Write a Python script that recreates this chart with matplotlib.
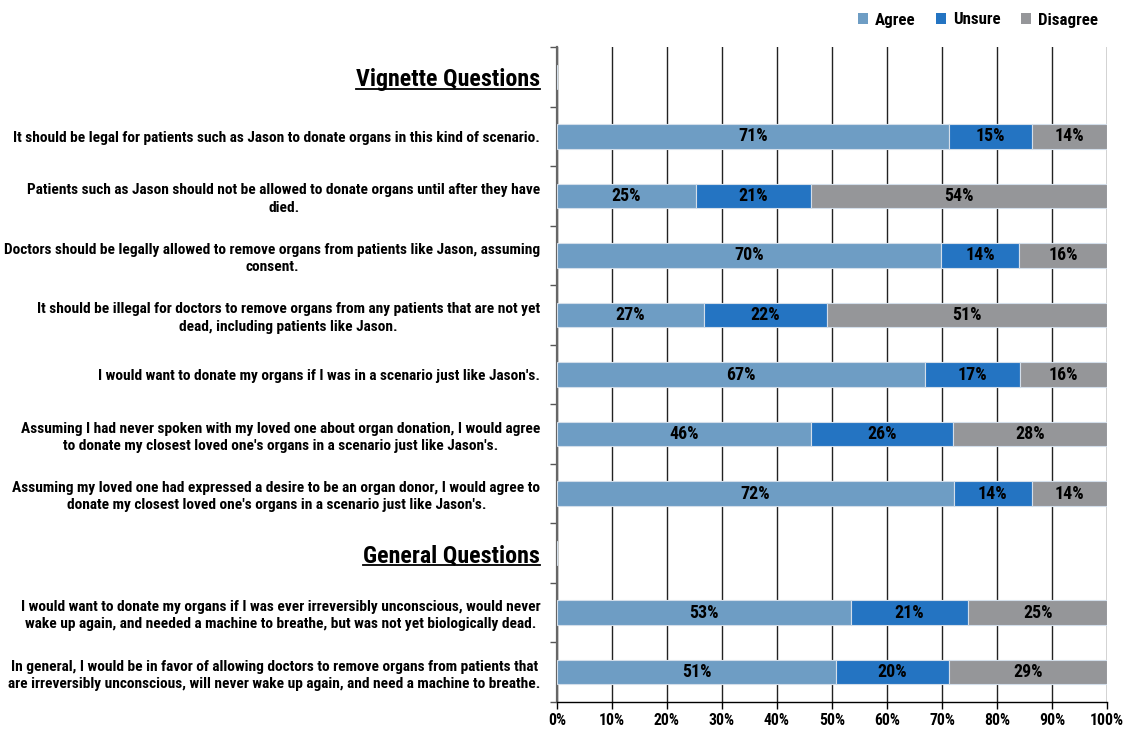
import matplotlib
matplotlib.use("Agg")
import matplotlib.pyplot as plt
from matplotlib import font_manager
from matplotlib.lines import Line2D
from matplotlib.patches import Patch
import numpy as np

names = {f.name for f in font_manager.fontManager.ttflist}
FAM = None
for cand in ["Liberation Sans Narrow", "Arial Narrow", "Roboto Condensed",
             "Open Sans Condensed", "Noto Sans Condensed", "DejaVu Sans Condensed"]:
    if cand in names:
        FAM = cand
        break
if FAM is None:
    FAM = "Liberation Sans"
plt.rcParams["font.family"] = [FAM, "DejaVu Sans"]

categories = [
    "Vignette Questions",
    "It should be legal for patients such as Jason to donate organs in this kind of scenario.",
    "Patients such as Jason should not be allowed to donate organs until after they have\ndied.",
    "Doctors should be legally allowed to remove organs from patients like Jason, assuming\nconsent.",
    "It should be illegal for doctors to remove organs from any patients that are not yet\ndead, including patients like Jason.",
    "I would want to donate my organs if I was in a scenario just like Jason's.",
    "Assuming I had never spoken with my loved one about organ donation, I would agree\nto donate my closest loved one's organs in a scenario just like Jason's.",
    "Assuming my loved one had expressed a desire to be an organ donor, I would agree to\ndonate my closest loved one's organs in a scenario just like Jason's.",
    "General Questions",
    "I would want to donate my organs if I was ever irreversibly unconscious, would never\nwake up again, and needed a machine to breathe, but was not yet biologically dead.",
    "In general, I would be in favor of allowing doctors to remove organs from patients that\nare irreversibly unconscious, will never wake up again, and need a machine to breathe.",
]
headers = ["Vignette Questions", "General Questions"]

agree    = [np.nan, 71.3, 25.2, 69.8, 26.7, 66.9, 46.1, 72.1, np.nan, 53.4, 50.8]
unsure   = [np.nan, 15.0, 20.9, 14.2, 22.4, 17.3, 25.9, 14.2, np.nan, 21.4, 20.4]
disagree = [np.nan, 13.7, 53.9, 16.0, 50.9, 15.8, 28.0, 13.7, np.nan, 25.2, 28.8]

series_names = ["Agree", "Unsure", "Disagree"]
colors = ["#6e9dc4", "#2474c2", "#959699"]
xticks = [0, 10, 20, 30, 40, 50, 60, 70, 80, 90, 100]

fig = plt.figure(figsize=(11.28, 7.31), dpi=100)
ax = fig.add_axes([557/1128, 1 - 702/731, 550/1128, 655/731])
renderer = fig.canvas.get_renderer()


def fit_size(base, sample, target_px, weight="bold"):
    t = fig.text(0, 0, sample, fontsize=base, fontweight=weight)
    w = t.get_window_extent(renderer).width
    t.remove()
    return base * target_px / w


lab_fs = fit_size(11, categories[1], 528)
head_fs = fit_size(15, "Vignette Questions", 184)
val_fs = fit_size(11, "71%", 29.5)
tick_fs = fit_size(11, "100%", 34)
leg_fs = fit_size(11, "Disagree", 60)

y = np.arange(len(categories))
left = np.zeros(len(categories))
for vals, col, name in zip([agree, unsure, disagree], colors, series_names):
    v = np.array(vals, dtype=float)
    vv = np.nan_to_num(v)
    ax.barh(y, vv, left=left, height=0.41, color=col, edgecolor="#d3deea",
            linewidth=0.8, label=name, zorder=3)
    for yi, (l, w) in enumerate(zip(left, v)):
        if not np.isnan(w):
            ax.text(l + w / 2, yi, f"{w:.0f}%", ha="center", va="center",
                    fontsize=val_fs, fontweight="bold", color="black", zorder=4)
    left = left + vv

ax.set_xlim(0, 100)
ax.set_ylim(len(categories) - 0.5, -0.5)
ax.set_xticks(xticks)
ax.set_xticklabels([f"{t}%" for t in xticks], fontsize=tick_fs, fontweight="bold")
ax.set_yticks(y)
ax.set_yticks(np.arange(-0.5, len(categories) + 0.5, 1), minor=True)
ax.tick_params(axis="y", which="major", length=0, pad=12)
ax.tick_params(axis="y", which="minor", length=5, width=1, color="#555555")
ax.tick_params(axis="x", length=5, width=1, color="black", pad=3)
labels = ax.set_yticklabels(categories)
for lab, txt in zip(labels, categories):
    lab.set_multialignment("center")
    lab.set_fontweight("bold")
    lab.set_linespacing(1.3)
    if txt in headers:
        lab.set_fontsize(head_fs)
    else:
        lab.set_fontsize(lab_fs)

for s in ["top", "right"]:
    ax.spines[s].set_visible(False)
ax.spines["left"].set_color("#666666")
ax.spines["left"].set_linewidth(1.6)
ax.spines["bottom"].set_color("black")
ax.spines["bottom"].set_linewidth(1)
ax.set_axisbelow(True)
ax.grid(axis="x", color="#222222", linewidth=1, zorder=0)
ax.grid(axis="y", visible=False)

handles = [Patch(facecolor=c, edgecolor="none") for c in colors]
fig.legend(handles, series_names, loc="center right", bbox_to_anchor=(1098/1128, 1 - 20/731),
           ncol=3, frameon=False, prop={"weight": "bold", "size": leg_fs},
           handlelength=0.6, handleheight=0.6, handletextpad=0.4, columnspacing=1.2,
           borderpad=0, borderaxespad=0)

fig.canvas.draw()
renderer = fig.canvas.get_renderer()
for lab, txt in zip(labels, categories):
    if txt in headers:
        bb = lab.get_window_extent(renderer)
        yline = bb.y0 + 2
        fig.add_artist(Line2D([bb.x0 / fig.bbox.width, bb.x1 / fig.bbox.width],
                              [yline / fig.bbox.height, yline / fig.bbox.height],
                              transform=fig.transFigure, color="black", linewidth=1.3))

fig.savefig("out.png", dpi=100)
